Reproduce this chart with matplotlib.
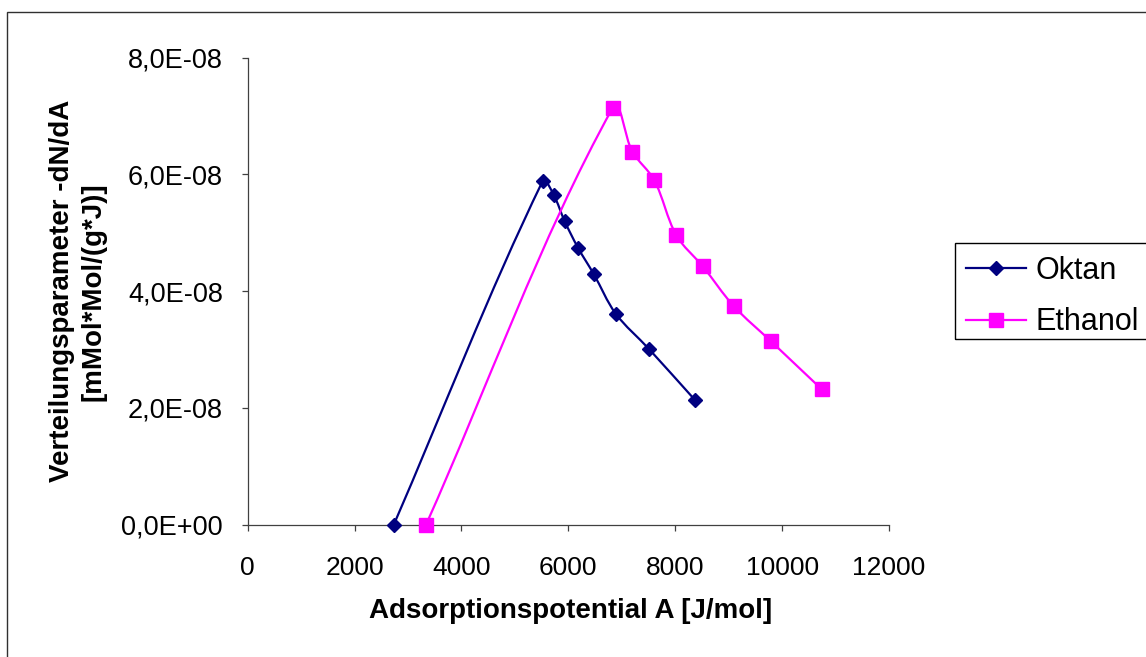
import matplotlib
matplotlib.use("Agg")
import numpy as np
import matplotlib.pyplot as plt
from matplotlib.path import Path
from matplotlib.patches import PathPatch, Rectangle
from matplotlib.lines import Line2D
from matplotlib.ticker import FixedLocator, FixedFormatter

plt.rcParams['font.family'] = ['Liberation Sans', 'DejaVu Sans']

# ---- data ----
oktan_x = [2735, 5521, 5727, 5933, 6181, 6475, 6887, 7504, 8370]
oktan_y = [0.0, 5.888e-8, 5.648e-8, 5.197e-8, 4.745e-8, 4.295e-8, 3.615e-8, 3.015e-8, 2.136e-8]

ethanol_x = [3338, 6831, 7197, 7609, 8021, 8515, 9094, 9792, 10741]
ethanol_y = [0.0, 7.143e-8, 6.390e-8, 5.900e-8, 4.958e-8, 4.427e-8, 3.746e-8, 3.142e-8, 2.320e-8]

series_names = ["Oktan", "Ethanol"]
x_ticks = [0, 2000, 4000, 6000, 8000, 10000, 12000]
x_tick_labels = ["0", "2000", "4000", "6000", "8000", "10000", "12000"]
y_ticks = [0.0, 2e-8, 4e-8, 6e-8, 8e-8]
y_tick_labels = ["0,0E+00", "2,0E-08", "4,0E-08", "6,0E-08", "8,0E-08"]
x_label = "Adsorptionspotential A [J/mol]"
y_label = "Verteilungsparameter -dN/dA\n[mMol*Mol/(g*J)]"

OKTAN_COLOR = "#000080"
ETHANOL_COLOR = "#FF00FF"

W, H = 1146, 657
fig = plt.figure(figsize=(W / 100, H / 100), dpi=100)
fig.patch.set_facecolor("white")

# outer chart-area border (extends beyond right/bottom edges)
fig.patches.append(Rectangle((7 / W, -0.1), 1.2, 1 - 12 / H + 0.1,
                             transform=fig.transFigure, fill=False,
                             edgecolor="#303030", linewidth=1.0))

left, right, top, bottom = 247.6, 889, 57.7, 524.7
ax = fig.add_axes([left / W, 1 - bottom / H, (right - left) / W, (bottom - top) / H])
ax.set_xlim(0, 12000)
ax.set_ylim(0, 8e-8)
ax.set_facecolor("white")
for s in ("top", "right"):
    ax.spines[s].set_visible(False)
for s in ("left", "bottom"):
    ax.spines[s].set_color("#404040")
    ax.spines[s].set_linewidth(0.9)

ax.xaxis.set_major_locator(FixedLocator(x_ticks))
ax.xaxis.set_major_formatter(FixedFormatter(x_tick_labels))
ax.yaxis.set_major_locator(FixedLocator(y_ticks))
ax.yaxis.set_major_formatter(FixedFormatter(y_tick_labels))
ax.tick_params(axis="both", direction="out", length=4.3, width=0.9, color="#404040",
               labelcolor="black")
ax.tick_params(axis="x", pad=18, labelsize=19)
ax.tick_params(axis="y", pad=13.5, labelsize=19.5)


def smooth_path(xs, ys, k=1.0):
    """Smoothed line (Excel-like): Bezier segments with control points along the
    neighbour tangent, computed in screen space and mapped back to data space."""
    pts = ax.transData.transform(np.column_stack([xs, ys]))
    n = len(pts)
    tang = []
    for i in range(n):
        a = pts[i - 1] if i > 0 else pts[i]
        b = pts[i + 1] if i < n - 1 else pts[i]
        d = b - a
        tang.append(d / np.hypot(*d))
    verts = [pts[0]]
    codes = [Path.MOVETO]
    for i in range(n - 1):
        seg = np.hypot(*(pts[i + 1] - pts[i]))
        c1 = pts[i] + tang[i] * seg / 3.0 * k
        c2 = pts[i + 1] - tang[i + 1] * seg / 3.0 * k
        verts += [c1, c2, pts[i + 1]]
        codes += [Path.CURVE4] * 3
    verts = ax.transData.inverted().transform(np.array(verts))
    return Path(verts, codes)


for xs, ys, col in ((oktan_x, oktan_y, OKTAN_COLOR), (ethanol_x, ethanol_y, ETHANOL_COLOR)):
    ax.add_patch(PathPatch(smooth_path(xs, ys), facecolor="none", edgecolor=col,
                           linewidth=1.6, zorder=2, clip_on=False))

ax.plot(oktan_x, oktan_y, linestyle="none", marker="D", markersize=7.6,
        color=OKTAN_COLOR, zorder=3, clip_on=False)
ax.plot(ethanol_x, ethanol_y, linestyle="none", marker="s", markersize=9.4,
        color=ETHANOL_COLOR, zorder=3, clip_on=False)

ax.set_xlabel(x_label, fontsize=20, fontweight="bold")
ax.xaxis.set_label_coords((571 - left) / (right - left), (bottom - 598) / (bottom - top))
ax.set_ylabel(y_label, fontsize=20, fontweight="bold", linespacing=1.25)
ax.yaxis.set_label_coords((106 - left) / (right - left), 0.5)

# legend
handles = [
    Line2D([], [], color=OKTAN_COLOR, linewidth=1.6, marker="D", markersize=7.6),
    Line2D([], [], color=ETHANOL_COLOR, linewidth=1.6, marker="s", markersize=9.4),
]
fig.patches.append(Rectangle((955 / W, 1 - 339 / H), 0.3, (339 - 243) / H,
                             transform=fig.transFigure, fill=False,
                             edgecolor="black", linewidth=1.0))
leg = fig.legend(handles, series_names, loc="upper left",
                 bbox_to_anchor=(966 / W, 1 - 256 / H), frameon=False,
                 fontsize=22, handlelength=1.95, handletextpad=0.33,
                 borderpad=0, borderaxespad=0, labelspacing=0.7)

fig.savefig("out.png", dpi=100)
